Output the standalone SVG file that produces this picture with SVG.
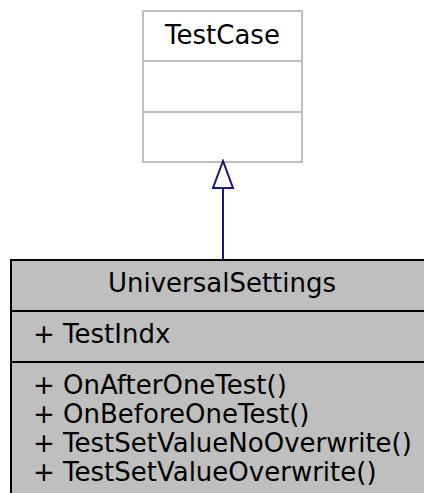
<svg xmlns="http://www.w3.org/2000/svg" width="424" height="493" viewBox="0 0 424 493">
<style>
text{font-family:"DejaVu Sans",sans-serif;font-size:26px;fill:#000}
.mid{text-anchor:middle}
.base{fill:#fff;stroke:#bfbfbf;stroke-width:2}
.main{fill:#bfbfbf;stroke:#000;stroke-width:2}
.edge{stroke:#191970;stroke-width:2;fill:none}
</style>
<defs>
<marker id="tri" markerWidth="32" markerHeight="24" refX="30" refY="11" orient="auto" markerUnits="userSpaceOnUse" viewBox="0 0 32 24">
<path d="M30,11 L3,1 L3,21 Z" fill="#fff" stroke="#191970" stroke-width="2"/>
</marker>
</defs>
<g id="TestCase">
<rect class="base" x="143" y="11" width="159" height="151"/>
<line class="base" x1="143" y1="61" x2="302" y2="61"/>
<line class="base" x1="143" y1="112" x2="302" y2="112"/>
<text class="mid" x="222.5" y="44">TestCase</text>
</g>
<g id="UniversalSettings">
<rect class="main" x="11" y="260" width="420" height="245"/>
<line class="main" x1="11" y1="311" x2="431" y2="311"/>
<line class="main" x1="11" y1="362" x2="431" y2="362"/>
<text class="mid" x="222" y="292">UniversalSettings</text>
<text x="33" y="343">+ TestIndx</text>
<text x="33" y="394">+ OnAfterOneTest()</text>
<text x="33" y="423">+ OnBeforeOneTest()</text>
<text x="33" y="452">+ TestSetValueNoOverwrite()</text>
<text x="33" y="481">+ TestSetValueOverwrite()</text>
</g>
<g id="connectors">
<path class="edge" d="M223,260 L223,161" marker-end="url(#tri)"/>
</g>
</svg>
